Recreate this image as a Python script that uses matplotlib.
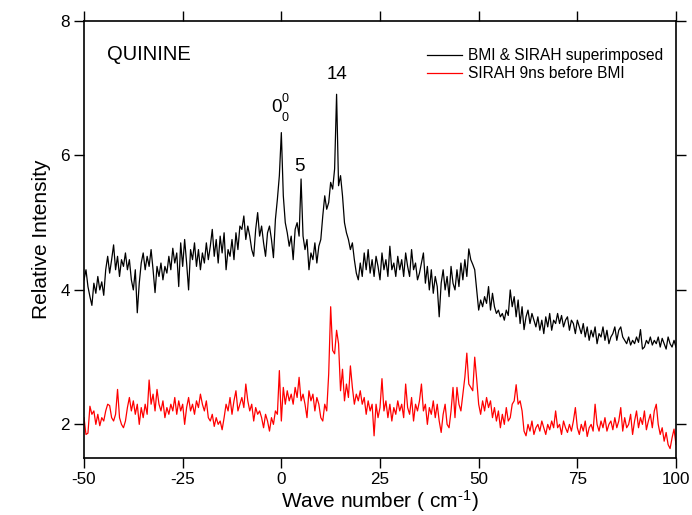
import numpy as np
import matplotlib
matplotlib.use("Agg")
import matplotlib.pyplot as plt

plt.rcParams['font.family'] = ['Liberation Sans', 'DejaVu Sans']
plt.rcParams['mathtext.fontset'] = 'custom'
plt.rcParams['mathtext.rm'] = 'Liberation Sans'
plt.rcParams['mathtext.it'] = 'Liberation Sans'

# Wave number axis (cm^-1), 0.5 cm^-1 steps from -50 to 100
wavenumber = np.arange(-50, 100.001, 0.5)

# BMI & SIRAH superimposed
bmi_sirah = [
    4.15, 4.30, 4.05, 3.90, 3.77, 4.10, 3.95, 4.20, 4.00, 4.12,
    3.92, 4.30, 4.50, 4.25, 4.45, 4.67, 4.30, 4.50, 4.20, 4.45,
    4.35, 4.55, 4.30, 4.45, 4.15, 4.00, 4.30, 3.66, 4.10, 4.40,
    4.55, 4.30, 4.50, 4.35, 4.60, 4.30, 3.96, 4.35, 4.20, 4.40,
    4.15, 4.35, 4.25, 4.50, 4.30, 4.62, 4.40, 4.55, 4.05, 4.70,
    4.35, 4.75, 4.40, 4.00, 4.60, 4.45, 4.70, 4.35, 4.60, 4.30,
    4.55, 4.40, 4.70, 4.45, 4.65, 4.90, 4.50, 4.75, 4.40, 4.80,
    4.55, 4.85, 4.30, 4.60, 4.50, 4.75, 4.45, 4.85, 4.60, 4.95,
    4.90, 5.10, 4.75, 4.95, 4.80, 4.60, 4.50, 4.90, 5.15, 4.80,
    4.95, 4.70, 4.50, 4.85, 4.95, 4.75, 4.48, 5.05, 5.35, 5.70,
    6.34, 5.40, 5.00, 4.85, 4.65, 4.80, 4.45, 4.90, 5.00, 4.80,
    5.65, 4.80, 4.60, 4.75, 4.30, 4.55, 4.45, 4.70, 4.40, 4.65,
    4.75, 5.10, 5.40, 5.20, 5.30, 5.60, 5.50, 5.80, 6.91, 5.55,
    5.70, 5.40, 5.00, 4.85, 4.75, 4.60, 4.70, 4.45, 4.25, 4.15,
    4.40, 4.20, 4.55, 4.30, 4.60, 4.25, 4.45, 4.20, 4.50, 4.35,
    4.15, 4.55, 4.30, 4.45, 4.20, 4.65, 4.30, 4.40, 4.20, 4.50,
    4.30, 4.45, 4.20, 4.55, 4.35, 4.20, 4.60, 4.30, 4.40, 4.15,
    4.25, 4.40, 4.55, 4.10, 4.35, 4.00, 4.30, 3.95, 4.20, 4.05,
    3.60, 4.10, 4.30, 4.00, 4.20, 3.90, 4.35, 4.10, 4.00, 4.30,
    4.05, 4.40, 4.15, 4.45, 4.20, 4.61, 4.45, 4.38, 4.30, 4.00,
    3.70, 3.85, 3.75, 3.90, 3.80, 4.05, 3.70, 3.95, 3.75, 3.65,
    3.70, 3.60, 3.65, 3.55, 3.70, 3.62, 4.00, 3.75, 3.90, 3.60,
    3.85, 3.50, 3.75, 3.41, 3.60, 3.70, 3.50, 3.65, 3.55, 3.45,
    3.60, 3.40, 3.55, 3.35, 3.60, 3.45, 3.65, 3.40, 3.55, 3.50,
    3.65, 3.50, 3.62, 3.45, 3.55, 3.60, 3.40, 3.55, 3.50, 3.35,
    3.55, 3.45, 3.35, 3.50, 3.30, 3.45, 3.25, 3.40, 3.30, 3.45,
    3.20, 3.35, 3.30, 3.45, 3.25, 3.40, 3.20, 3.30, 3.35, 3.45,
    3.25, 3.40, 3.45, 3.30, 3.25, 3.20, 3.30, 3.18, 3.25, 3.20,
    3.30, 3.22, 3.41, 3.12, 3.15, 3.25, 3.20, 3.30, 3.18, 3.25,
    3.20, 3.30, 3.15, 3.28, 3.20, 3.12, 3.30, 3.20, 3.15, 3.25,
    3.15,
]

# SIRAH 9 ns before BMI
sirah_early = [
    2.10, 1.85, 1.87, 2.27, 2.15, 2.20, 2.00, 2.15, 1.98, 2.10,
    2.05, 2.20, 2.30, 2.28, 2.10, 2.05, 2.15, 2.52, 2.10, 2.00,
    1.95, 2.05, 2.25, 2.40, 2.20, 2.35, 2.15, 2.30, 2.00, 2.25,
    2.10, 2.30, 2.15, 2.66, 2.30, 2.45, 2.20, 2.52, 2.30, 2.20,
    2.35, 2.10, 2.25, 2.15, 2.30, 2.20, 2.40, 2.15, 2.35, 2.20,
    2.30, 2.00, 2.25, 2.40, 2.20, 2.30, 2.15, 2.35, 2.25, 2.45,
    2.30, 2.20, 2.35, 2.10, 2.05, 2.15, 1.97, 2.10, 2.00, 2.05,
    1.92, 2.10, 2.30, 2.20, 2.40, 2.15, 2.35, 2.50, 2.20, 2.30,
    2.40, 2.25, 2.60, 2.35, 2.20, 2.30, 2.05, 2.25, 2.15, 2.20,
    2.10, 1.95, 2.15, 2.05, 1.90, 2.10, 2.00, 2.20, 2.15, 2.80,
    2.05, 2.55, 2.30, 2.50, 2.35, 2.45, 2.30, 2.55, 2.40, 2.70,
    2.35, 2.45, 2.30, 2.10, 2.50, 2.35, 2.45, 2.20, 2.40, 2.30,
    2.10, 2.05, 2.30, 2.20, 2.75, 3.75, 3.10, 3.05, 3.40, 3.20,
    2.50, 2.82, 2.35, 2.60, 2.40, 2.87, 2.55, 2.30, 2.45, 2.35,
    2.50, 2.30, 2.40, 2.15, 2.35, 2.20, 2.30, 1.83, 2.30, 2.10,
    2.25, 2.68, 2.20, 2.35, 2.10, 2.30, 2.05, 2.25, 2.15, 2.35,
    2.20, 2.30, 2.10, 2.60, 2.25, 2.15, 2.40, 2.05, 2.30, 2.20,
    2.35, 2.60, 2.20, 2.30, 2.00, 2.25, 2.15, 2.35, 2.10, 2.30,
    2.05, 1.88, 2.15, 2.30, 2.00, 1.95, 2.20, 2.55, 2.10, 2.55,
    2.30, 2.20, 2.45, 2.70, 3.06, 2.60, 2.55, 2.50, 3.00, 2.67,
    2.30, 2.15, 2.35, 2.20, 2.40, 2.25, 2.35, 2.10, 2.25, 2.05,
    2.20, 1.95, 2.15, 2.00, 2.25, 2.05, 2.10, 2.30, 2.35, 2.59,
    2.30, 2.35, 2.20, 1.90, 1.83, 2.00, 1.90, 2.05, 1.85, 1.95,
    2.00, 1.90, 2.05, 1.95, 1.85, 2.00, 1.92, 2.05, 1.95, 2.20,
    1.95, 2.00, 1.85, 2.05, 1.95, 1.88, 2.00, 1.90, 2.05, 2.25,
    1.95, 1.85, 2.00, 1.90, 2.05, 1.82, 1.95, 2.00, 1.90, 2.30,
    2.00, 1.90, 2.05, 1.95, 2.10, 1.90, 2.00, 2.05, 1.92, 2.10,
    1.95, 2.05, 2.25, 1.90, 2.10, 1.95, 2.00, 2.15, 1.85, 2.05,
    2.20, 1.95, 2.10, 2.00, 2.20, 1.92, 2.05, 2.15, 1.95, 2.20,
    2.30, 2.00, 1.85, 1.95, 1.75, 1.88, 1.70, 1.64, 1.80, 1.93,
    1.70,
]

series_labels = ["BMI & SIRAH superimposed", "SIRAH 9ns before BMI"]
x_ticks = [-50, -25, 0, 25, 50, 75, 100]
y_ticks = [2, 4, 6, 8]

fig = plt.figure(figsize=(6.92, 5.15), dpi=100)
ax = fig.add_axes([84 / 692, 57 / 515, 592 / 692, 437 / 515])

ax.plot(wavenumber, bmi_sirah, color="black", lw=0.9, label=series_labels[0])
ax.plot(wavenumber, sirah_early, color="#ff0000", lw=0.9, label=series_labels[1])

ax.set_xlim(-50, 100)
ax.set_ylim(1.5, 8)
ax.set_xticks(x_ticks)
ax.set_yticks(y_ticks)
ax.set_xticklabels([str(t) for t in x_ticks])
ax.tick_params(axis="both", which="major", direction="out", length=7,
               width=1.0, labelsize=12.3, pad=3)
ax.xaxis.set_tick_params(which="major", top=True, labeltop=False)
ax.yaxis.set_tick_params(which="major", right=True, labelright=False)
for sp in ax.spines.values():
    sp.set_linewidth(1.2)

ax.set_xlabel(r"Wave number ( cm$^{\text{-}1}$)", fontsize=15, labelpad=1)
ax.set_ylabel("Relative Intensity", fontsize=15, labelpad=7)

ax.text(-44.2, 7.5, "QUININE", fontsize=14.5, ha="left", va="center")

# peak labels
ax.text(-1.3, 6.71, "0", fontsize=13.5, ha="center", va="center")
ax.text(0.9, 6.84, "0", fontsize=9, ha="center", va="center")
ax.text(0.9, 6.56, "0", fontsize=9, ha="center", va="center")
ax.text(4.7, 5.83, "5", fontsize=13.5, ha="center", va="center")
ax.text(14.1, 7.2, "14", fontsize=13.5, ha="center", va="center")

leg = ax.legend(loc="upper left", bbox_to_anchor=((427 - 84) / 592, (458 - 48) / 437),
                frameon=False, fontsize=11.2, handlelength=2.25,
                handletextpad=0.4, labelspacing=0.2, borderpad=0,
                borderaxespad=0)

fig.savefig("out.png", dpi=100)
